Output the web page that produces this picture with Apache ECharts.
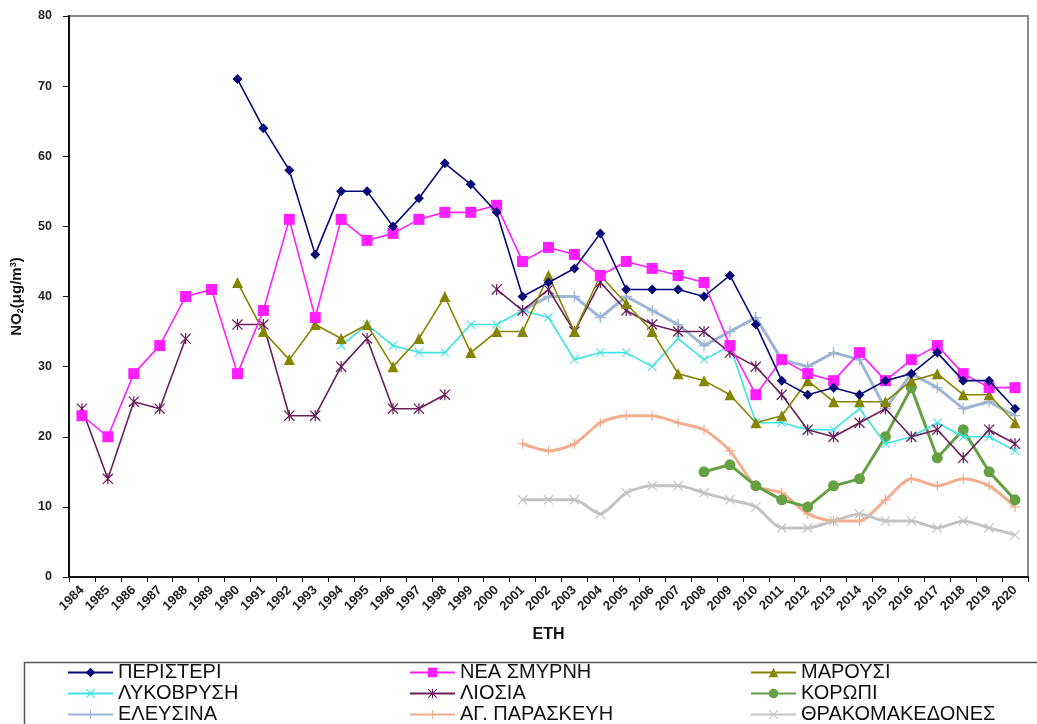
<!DOCTYPE html>
<html>
<head>
<meta charset="utf-8">
<script src="https://cdn.jsdelivr.net/npm/echarts@6/dist/echarts.min.js"></script>
<style>
  html, body { margin: 0; padding: 0; background: #fff; }
  #chart { width: 1037px; height: 724px; }
</style>
</head>
<body>
<div id="chart"></div>
<script>
// Annual mean NO2 concentrations per station, 1984–2020
const years = ['1984','1985','1986','1987','1988','1989','1990','1991','1992','1993','1994','1995','1996','1997','1998','1999','2000','2001','2002','2003','2004','2005','2006','2007','2008','2009','2010','2011','2012','2013','2014','2015','2016','2017','2018','2019','2020'];
const yTicks = [0, 10, 20, 30, 40, 50, 60, 70, 80];

const peristeri = [null,null,null,null,null,null,71,64,58,46,55,55,50,54,59,56,52,40,42,44,49,41,41,41,40,43,36,28,26,27,26,28,29,32,28,28,24];
const neaSmyrni = [23,20,29,33,40,41,29,38,51,37,51,48,49,51,52,52,53,45,47,46,43,45,44,43,42,33,26,31,29,28,32,28,31,33,29,27,27];
const marousi = [null,null,null,null,null,null,42,35,31,36,34,36,30,34,40,32,35,35,43,35,43,39,35,29,28,26,22,23,28,25,25,25,28,29,26,26,22];
const lykovrysi = [null,null,null,null,null,null,null,null,null,null,33,36,33,32,32,36,36,38,37,31,32,32,30,34,31,33,22,22,21,21,24,19,20,22,20,20,18];
const liosia = [24,14,25,24,34,null,36,36,23,23,30,34,24,24,26,null,41,38,41,35,42,38,36,35,35,32,30,26,21,20,22,24,20,21,17,21,19];
const koropi = [null,null,null,null,null,null,null,null,null,null,null,null,null,null,null,null,null,null,null,null,null,null,null,null,15,16,13,11,10,13,14,20,27,17,21,15,11];
const elefsina = [null,null,null,null,null,null,null,null,null,null,null,null,null,null,null,null,null,38,40,40,37,40,38,36,33,35,37,31,30,32,31,24,29,27,24,25,23];
const agParaskevi = [null,null,null,null,null,null,null,null,null,null,null,null,null,null,null,null,null,19,18,19,22,23,23,22,21,18,13,12,9,8,8,11,14,13,14,13,10];
const thrakomakedones = [null,null,null,null,null,null,null,null,null,null,null,null,null,null,null,null,null,11,11,11,9,12,13,13,12,11,10,7,7,8,9,8,8,7,8,7,6];

// Marker outlines drawn as thin filled paths
const PLUS = 'path://M4.4,0H5.6V10H4.4Z M0,4.4H10V5.6H0Z';
const CROSS = 'path://M0.8,0L10,9.2L9.2,10L0,0.8Z M9.2,0L10,0.8L0.8,10L0,9.2Z';
const STAR = 'path://M0.8,0L10,9.2L9.2,10L0,0.8Z M9.2,0L10,0.8L0.8,10L0,9.2Z M4.45,0H5.55V10H4.45Z';

const FONT = 'Liberation Sans, Arial, sans-serif';

function line(name, data, color, width, symbol, size, z, smooth) {
  return {
    name: name,
    type: 'line',
    data: data,
    connectNulls: false,
    smooth: smooth || false,
    symbol: symbol,
    symbolSize: size,
    showSymbol: true,
    z: z,
    lineStyle: { color: color, width: width },
    itemStyle: { color: color, borderWidth: 0 },
    emphasis: { disabled: true }
  };
}

const series = [
  line('ΑΓ. ΠΑΡΑΣΚΕΥΗ', agParaskevi, '#F1AE8E', 3, PLUS, 10, 2, 0.25),
  line('ΘΡΑΚΟΜΑΚΕΔΟΝΕΣ', thrakomakedones, '#C3C3C3', 3, CROSS, 10, 2, 0.25),
  line('ΚΟΡΩΠΙ', koropi, '#65A144', 3, 'circle', 11, 3),
  line('ΕΛΕΥΣΙΝΑ', elefsina, '#9DB6D3', 3, PLUS, 11, 3),
  line('ΛΥΚΟΒΡΥΣΗ', lykovrysi, '#3EE3E3', 1.6, CROSS, 9, 4),
  line('ΛΙΟΣΙΑ', liosia, '#6A1E5C', 1.6, STAR, 11, 4),
  line('ΜΑΡΟΥΣΙ', marousi, '#858500', 1.6, 'triangle', 11, 5),
  line('ΝΕΑ ΣΜΥΡΝΗ', neaSmyrni, '#FF1EFF', 1.6, 'rect', 11, 6),
  line('ΠΕΡΙΣΤΕΡΙ', peristeri, '#0A0A78', 1.6, 'diamond', 10, 7)
];

function legendCol(left, names) {
  return {
    orient: 'vertical',
    left: left,
    top: 662,
    width: 300,
    height: 90,
    padding: 0,
    itemGap: 0,
    itemWidth: 45,
    itemHeight: 12,
    selectedMode: false,
    data: names,
    textStyle: { fontFamily: FONT, fontSize: 20, color: '#111', lineHeight: 21, padding: [0, 0, 0, 0] }
  };
}

const chart = echarts.init(document.getElementById('chart'), null, { renderer: 'canvas' });
chart.setOption({
  animation: false,
  backgroundColor: '#fff',
  grid: {
    left: 69, right: 9, top: 16, bottom: 147,
    show: true, borderColor: '#8a8a8a', borderWidth: 2, backgroundColor: 'transparent'
  },
  xAxis: {
    type: 'category',
    data: years,
    boundaryGap: true,
    name: 'ΕΤΗ',
    nameLocation: 'middle',
    nameGap: 50,
    nameTextStyle: { fontFamily: FONT, fontWeight: 'bold', fontSize: 16, color: '#111' },
    axisLine: { lineStyle: { color: '#111', width: 2 } },
    axisTick: { show: true, alignWithLabel: false, length: 5, lineStyle: { color: '#111', width: 1 } },
    axisLabel: {
      interval: 0, rotate: 45, margin: 11,
      fontFamily: FONT, fontWeight: 'bold', fontSize: 13, color: '#222'
    },
    splitLine: { show: false }
  },
  yAxis: {
    type: 'value',
    min: yTicks[0],
    max: yTicks[yTicks.length - 1],
    interval: 10,
    name: 'NO{sub|2}(μg/m{sup|3})',
    nameLocation: 'middle',
    nameRotate: 90,
    nameGap: 44,
    nameTextStyle: {
      fontFamily: FONT, fontWeight: 'bold', fontSize: 15, color: '#111',
      rich: {
        sub: { fontFamily: FONT, fontWeight: 'bold', fontSize: 9, color: '#111', verticalAlign: 'bottom', padding: [7, 0, 0, 0] },
        sup: { fontFamily: FONT, fontWeight: 'bold', fontSize: 9, color: '#111', verticalAlign: 'top', padding: [0, 0, 7, 0] }
      }
    },
    axisLine: { show: true, lineStyle: { color: '#111', width: 2 } },
    axisTick: { show: true, length: 6, lineStyle: { color: '#111', width: 1 } },
    axisLabel: { margin: 17, fontFamily: FONT, fontWeight: 'bold', fontSize: 12.5, color: '#222' },
    splitLine: { show: false }
  },
  legend: [
    legendCol(67, ['ΠΕΡΙΣΤΕΡΙ', 'ΛΥΚΟΒΡΥΣΗ', 'ΕΛΕΥΣΙΝΑ']),
    legendCol(409, ['ΝΕΑ ΣΜΥΡΝΗ', 'ΛΙΟΣΙΑ', 'ΑΓ. ΠΑΡΑΣΚΕΥΗ']),
    legendCol(750, ['ΜΑΡΟΥΣΙ', 'ΚΟΡΩΠΙ', 'ΘΡΑΚΟΜΑΚΕΔΟΝΕΣ'])
  ],
  graphic: [{
    type: 'rect',
    left: 22, top: 660,
    shape: { width: 1030, height: 80 },
    style: { fill: 'none', stroke: '#555', lineWidth: 1.5 },
    silent: true,
    z: -1
  }],
  series: series
});
</script>
</body>
</html>
